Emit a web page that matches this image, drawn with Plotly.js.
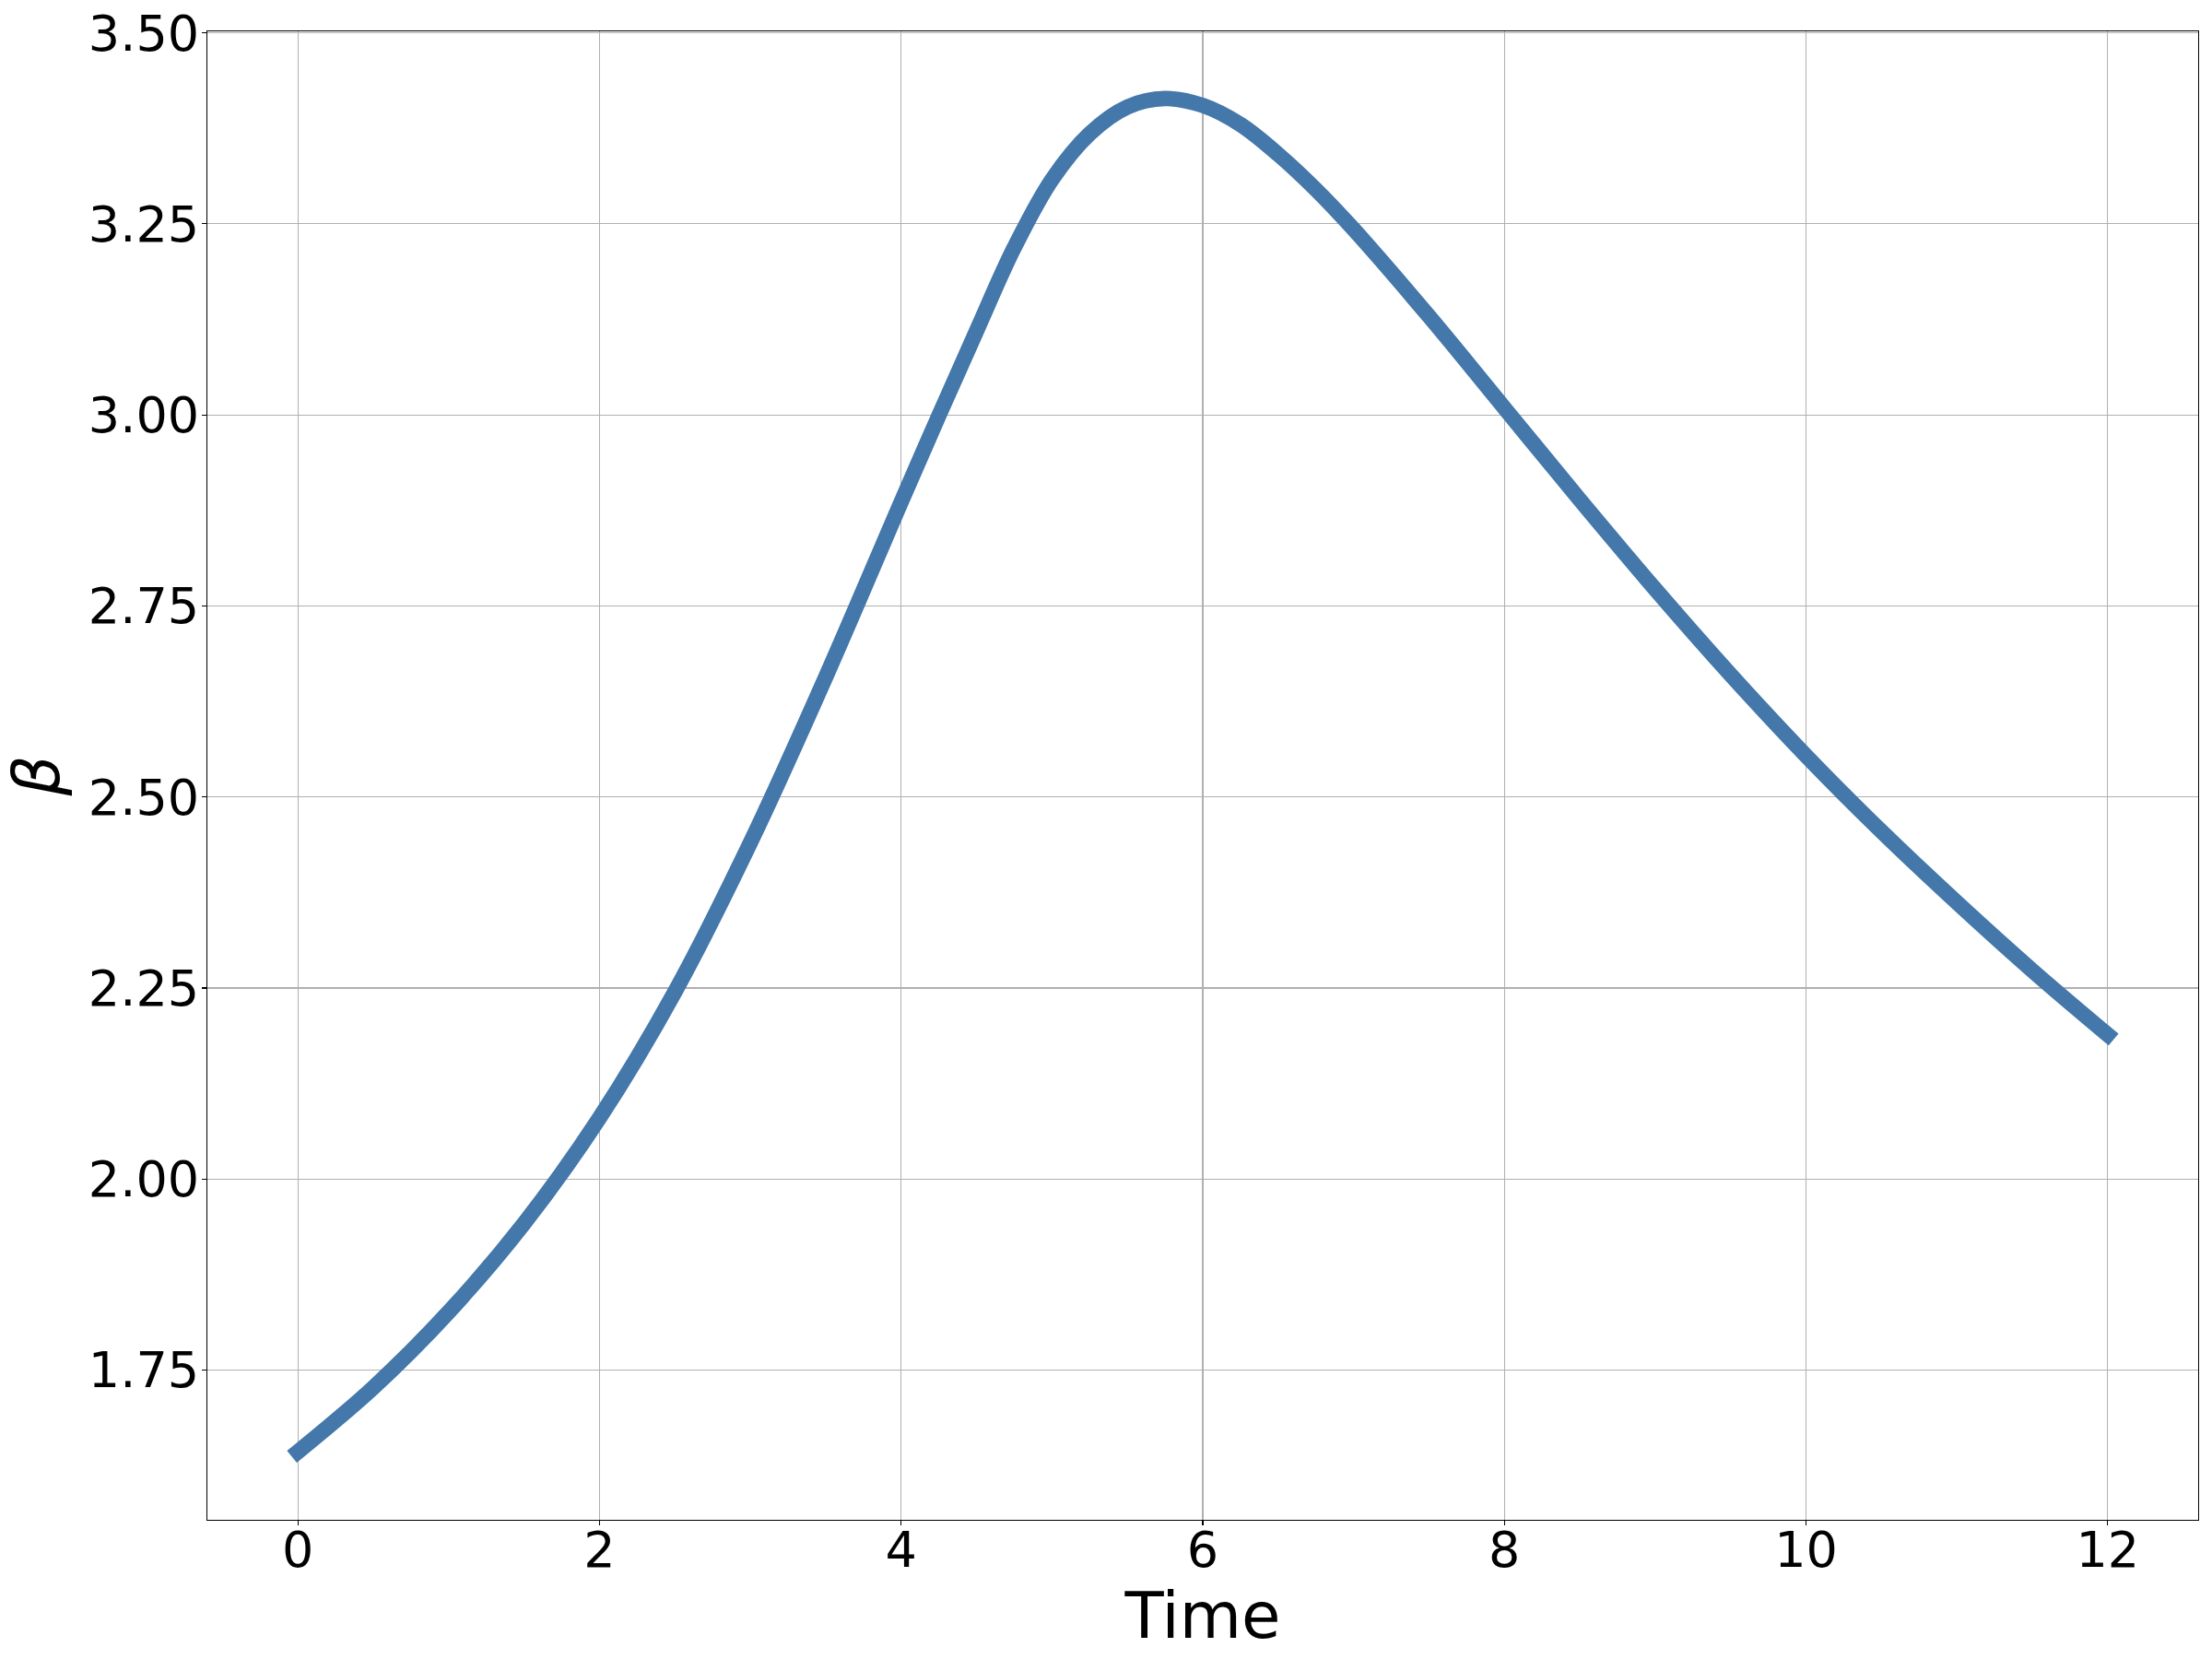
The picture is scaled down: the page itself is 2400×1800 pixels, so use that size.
<!DOCTYPE html>
<html>
<head>
<meta charset="utf-8">
<script src="https://cdn.plot.ly/plotly-3.0.1.min.js"></script>
<style>
  html, body { margin: 0; padding: 0; background: #ffffff; }
  #chart { width: 2400px; height: 1800px; }
</style>
</head>
<body>
<div id="chart"></div>
<script>
// Values
const time = [0, 0.5, 1.0, 1.5, 2.0, 2.5, 3.0, 3.5, 4.0, 4.25, 4.5, 4.75, 5.0, 5.25, 5.5, 5.75, 6.0, 6.25, 6.5, 6.75, 7.0, 7.5, 8.0, 8.5, 9.0, 9.5, 10.0, 10.5, 11.0, 11.5, 12.0];
const beta = [1.643, 1.727, 1.826, 1.942, 2.080, 2.245, 2.440, 2.657, 2.886, 2.999, 3.110, 3.219, 3.308, 3.368, 3.403, 3.414, 3.405, 3.380, 3.341, 3.295, 3.243, 3.129, 3.009, 2.889, 2.772, 2.660, 2.554, 2.455, 2.362, 2.273, 2.189];
const xTicks = [0, 2, 4, 6, 8, 10, 12];
const yTicks = [1.75, 2.00, 2.25, 2.50, 2.75, 3.00, 3.25, 3.50];
const yTickText = ["1.75", "2.00", "2.25", "2.50", "2.75", "3.00", "3.25", "3.50"];
const xLabel = "Time";
const yLabel = "<i>β</i>";

const FONT = "DejaVu Sans, Liberation Sans, sans-serif";

const trace = {
  x: time,
  y: beta,
  type: "scatter",
  mode: "lines",
  line: { color: "#4477aa", width: 16.7, shape: "spline", smoothing: 1 },
  hoverinfo: "skip",
  showlegend: false
};

const layout = {
  width: 2400,
  height: 1800,
  paper_bgcolor: "#ffffff",
  plot_bgcolor: "#ffffff",
  margin: { l: 225, r: 15, t: 34, b: 151, pad: 0 },
  font: { family: FONT, color: "#000000", size: 54 },
  showlegend: false,
  xaxis: {
    range: [-0.6, 12.6],
    tickmode: "array",
    tickvals: xTicks,
    ticktext: xTicks.map(String),
    ticks: "outside",
    ticklen: 5,
    tickwidth: 1.1,
    tickcolor: "#000000",
    ticklabelstandoff: -20,
    tickfont: { family: FONT, size: 54, color: "#000000" },
    showline: true,
    linecolor: "#000000",
    linewidth: 1.1,
    mirror: true,
    showgrid: true,
    gridcolor: "#b0b0b0",
    gridwidth: 1.1,
    zeroline: false,
    title: { text: xLabel, font: { family: FONT, size: 69, color: "#000000" }, standoff: 6 }
  },
  yaxis: {
    range: [1.554, 3.502],
    tickmode: "array",
    tickvals: yTicks,
    ticktext: yTickText,
    ticks: "outside",
    ticklen: 5,
    tickwidth: 1.1,
    tickcolor: "#000000",
    ticklabelstandoff: -8,
    tickfont: { family: FONT, size: 54, color: "#000000" },
    showline: true,
    linecolor: "#000000",
    linewidth: 1.1,
    mirror: true,
    showgrid: true,
    gridcolor: "#b0b0b0",
    gridwidth: 1.1,
    zeroline: false,
    title: { text: yLabel, font: { family: FONT, size: 69, color: "#000000" }, standoff: 12 }
  }
};

Plotly.newPlot("chart", [trace], layout, { staticPlot: true, displayModeBar: false }).then(function () {
  document.querySelectorAll("#chart path.js-line").forEach(function (p) {
    p.style.strokeLinecap = "square";
  });
});
</script>
</body>
</html>
